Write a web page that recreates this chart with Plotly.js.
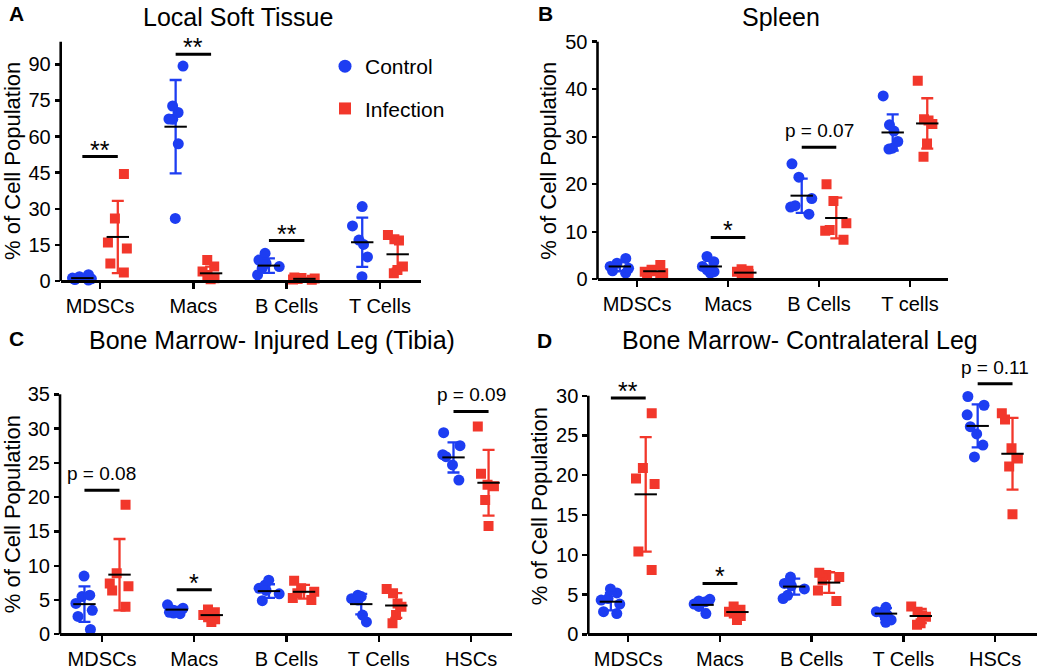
<!DOCTYPE html>
<html><head><meta charset="utf-8">
<script src="https://cdn.plot.ly/plotly-3.0.1.min.js"></script>
<style>html,body{margin:0;padding:0;background:#fff}#chart{width:1050px;height:670px}</style>
</head><body><div id="chart"></div>
<script>
// ---------- DATA ----------
// Panel A: Local Soft Tissue
const catsA = ['MDSCs', 'Macs', 'B Cells', 'T Cells'];
const ticksA = [0, 15, 30, 45, 60, 75, 90];
const ctrlA = [
  [2.6, 1.8, 1.2, 0.9, 0.6, 0.4],
  [89.3, 72.7, 70.0, 67.3, 67.2, 57.0, 26.0],
  [11.5, 8.7, 7.3, 6.0, 5.3, 2.5],
  [30.9, 22.9, 17.0, 15.2, 10.0, 1.8]
];
const infA = [
  [44.5, 26.0, 16.0, 13.5, 7.3, 3.5],
  [8.7, 6.0, 3.9, 2.5, 1.1, 0.7],
  [1.5, 1.2, 1.0, 0.8, 0.6, 0.5],
  [19.1, 17.3, 16.8, 6.0, 4.6, 3.2]
];
const ctrlMeanA = [1.2, 64.1, 6.4, 16.1];
const ctrlSdA = [0.8, 19.4, 3.0, 10.2];
const infMeanA = [18.3, 3.2, 0.9, 11.1];
const infSdA = [15.0, 2.8, 0.4, 6.0];
const sigCatA = [0, 1, 2];
const sigYA = [51.7, 94.2, 16.8];
const sigTxtA = ['**', '**', '**'];

// Panel B: Spleen
const catsB = ['MDSCs', 'Macs', 'B Cells', 'T cells'];
const ticksB = [0, 10, 20, 30, 40, 50];
const ctrlB = [
  [4.4, 3.4, 2.7, 2.3, 1.8, 1.3],
  [4.8, 3.7, 2.7, 2.0, 1.6, 1.3],
  [24.3, 21.5, 17.0, 15.5, 15.2, 13.7],
  [38.6, 32.5, 31.2, 29.0, 27.6, 27.4]
];
const infB = [
  [3.0, 2.0, 1.6, 1.3, 0.9, 0.7],
  [2.1, 1.8, 1.6, 1.3, 1.1, 0.8],
  [20.0, 16.5, 11.8, 10.4, 10.2, 8.3],
  [41.8, 33.7, 33.4, 32.7, 28.6, 25.8]
];
const ctrlMeanB = [2.7, 2.7, 17.6, 30.9];
const ctrlSdB = [1.0, 1.2, 3.6, 3.8];
const infMeanB = [1.7, 1.4, 12.9, 32.8];
const infSdB = [0.8, 0.5, 4.3, 5.3];
const sigCatB = [1, 2];
const sigYB = [8.8, 27.8];
const sigTxtB = ['*', 'p = 0.07'];

// Panel C: Bone Marrow - Injured Leg (Tibia)
const catsC = ['MDSCs', 'Macs', 'B Cells', 'T Cells', 'HSCs'];
const ticksC = [0, 5, 10, 15, 20, 25, 30, 35];
const ctrlC = [
  [8.5, 5.7, 5.5, 4.5, 3.5, 2.6, 0.7],
  [4.3, 3.8, 3.5, 3.4, 3.2, 3.1, 3.0],
  [7.9, 7.2, 6.7, 6.4, 5.9, 4.9],
  [5.7, 5.5, 5.2, 5.0, 2.8, 1.8],
  [29.4, 27.5, 26.2, 25.9, 24.7, 22.5]
];
const infC = [
  [18.9, 8.9, 7.4, 7.0, 6.4, 4.0],
  [3.6, 3.2, 2.8, 2.5, 2.2, 1.8],
  [7.8, 6.7, 6.2, 6.0, 5.3, 5.0],
  [6.6, 6.0, 4.5, 4.0, 2.8, 1.6],
  [30.3, 23.4, 21.8, 21.6, 19.6, 15.8]
];
const ctrlMeanC = [4.4, 3.6, 6.3, 4.4, 25.8];
const ctrlSdC = [2.6, 0.4, 1.0, 1.5, 2.2];
const infMeanC = [8.7, 2.8, 6.2, 4.2, 22.1];
const infSdC = [5.2, 0.6, 1.0, 1.8, 4.8];
const sigCatC = [0, 1, 4];
const sigYC = [21.0, 6.5, 32.5];
const sigTxtC = ['p = 0.08', '*', 'p = 0.09'];

// Panel D: Bone Marrow - Contralateral Leg
const catsD = ['MDSCs', 'Macs', 'B Cells', 'T Cells', 'HSCs'];
const ticksD = [0, 5, 10, 15, 20, 25, 30];
const ctrlD = [
  [5.7, 5.2, 4.5, 4.3, 3.8, 2.85, 2.6],
  [4.4, 4.2, 4.1, 3.8, 3.5, 2.6],
  [7.2, 6.4, 6.1, 5.7, 4.9, 4.5],
  [3.4, 2.85, 2.65, 2.4, 1.8, 1.5],
  [29.9, 28.8, 27.6, 26.1, 25.2, 23.8, 22.3]
];
const infD = [
  [27.8, 20.9, 19.6, 18.9, 10.4, 8.1],
  [3.5, 3.1, 2.85, 2.6, 2.3, 1.8],
  [7.75, 7.45, 7.2, 6.8, 5.5, 4.2],
  [3.5, 2.85, 2.4, 2.2, 1.4, 1.2],
  [27.8, 27.0, 23.4, 22.1, 21.1, 15.1]
];
const ctrlMeanD = [4.1, 3.7, 6.0, 2.6, 26.2];
const ctrlSdD = [1.1, 0.6, 1.0, 0.7, 2.7];
const infMeanD = [17.6, 2.8, 6.5, 2.3, 22.7];
const infSdD = [7.2, 0.6, 1.3, 0.9, 4.5];
const sigCatD = [0, 1, 4];
const sigYD = [29.7, 6.4, 31.5];
const sigTxtD = ['**', '*', 'p = 0.11'];

const seriesNames = ['Control', 'Infection'];
const panelTitles = ['Local Soft Tissue', 'Spleen', 'Bone Marrow- Injured Leg (Tibia)', 'Bone Marrow- Contralateral Leg'];
const panelLetters = ['A', 'B', 'C', 'D'];
const yTitle = '% of Cell Population';

// ---------- STYLE / GEOMETRY ----------
const W = 1050, H = 670;
const BLUE = '#1d3df2', RED = '#f2372b';
const FONT = '"Liberation Sans", Arial, Helvetica, sans-serif';
const OFF = 0.19;
const BELOW = 10; // px of plot area below zero line

const geo = [
  {left: 60.7, right: 421, zero: 281, ppu: 2.407, top: 104, axTop: 99.4, xr: [-0.422, 3.44], tx: 238, ty: 17, lx: 16, ly: 14},
  {left: 597.5, right: 948, zero: 279.3, ppu: 4.752, top: 52, axTop: 50, xr: [-0.435, 3.418], tx: 781, ty: 17, lx: 545, ly: 13},
  {left: 60, right: 512, zero: 634.3, ppu: 6.857, top: 36.5, axTop: 35, xr: [-0.455, 4.444], tx: 272, ty: 340, lx: 16, ly: 339},
  {left: 588.3, right: 1037, zero: 634.3, ppu: 7.953, top: 33.5, axTop: 30, xr: [-0.436, 4.457], tx: 800, ty: 340, lx: 544, ly: 340}
];

const panelData = [
  {cats: catsA, ticks: ticksA, ctrl: ctrlA, inf: infA, cm: ctrlMeanA, cs: ctrlSdA, im: infMeanA, is: infSdA, sc: sigCatA, sy: sigYA, st: sigTxtA},
  {cats: catsB, ticks: ticksB, ctrl: ctrlB, inf: infB, cm: ctrlMeanB, cs: ctrlSdB, im: infMeanB, is: infSdB, sc: sigCatB, sy: sigYB, st: sigTxtB},
  {cats: catsC, ticks: ticksC, ctrl: ctrlC, inf: infC, cm: ctrlMeanC, cs: ctrlSdC, im: infMeanC, is: infSdC, sc: sigCatC, sy: sigYC, st: sigTxtC},
  {cats: catsD, ticks: ticksD, ctrl: ctrlD, inf: infD, cm: ctrlMeanD, cs: ctrlSdD, im: infMeanD, is: infSdD, sc: sigCatD, sy: sigYD, st: sigTxtD}
];

const traces = [];
const layout = {
  width: W, height: H,
  margin: {l: 0, r: 0, t: 0, b: 0},
  paper_bgcolor: '#fff', plot_bgcolor: 'rgba(0,0,0,0)',
  font: {family: FONT, color: '#000'},
  boxmode: 'overlay',
  showlegend: true,
  legend: {x: 325 / W, xanchor: 'left', y: 1 - 46 / H, yanchor: 'top', font: {size: 21, color: '#000'},
           bgcolor: 'rgba(0,0,0,0)', traceorder: 'grouped', tracegroupgap: 12, itemsizing: 'trace'},
  annotations: [], shapes: []
};

function pointsTrace(groups, offset, color, symbol, xa, ya) {
  const x = [], y = [];
  groups.forEach((vals, i) => vals.forEach(v => { x.push(i + offset); y.push(v); }));
  return {type: 'box', orientation: 'v', x: x, y: y, xaxis: xa, yaxis: ya,
    boxpoints: 'all', jitter: 1, pointpos: 0, width: 0.25,
    fillcolor: 'rgba(0,0,0,0)', line: {width: 0, color: 'rgba(0,0,0,0)'}, whiskerwidth: 0,
    marker: {color: color, symbol: symbol, size: symbol === 'circle' ? 11 : 10, line: {width: 0}},
    showlegend: false, hoverinfo: 'y'};
}
function meanTrace(means, sds, offset, color, xa, ya) {
  return {type: 'scatter', mode: 'markers', x: means.map((m, i) => i + offset), y: means,
    xaxis: xa, yaxis: ya, cliponaxis: false,
    error_y: {type: 'data', array: sds, visible: true, color: color, thickness: 2.3, width: 6},
    marker: {symbol: 'line-ew', size: 16, color: '#000', line: {color: '#000', width: 2}},
    showlegend: false, hoverinfo: 'y'};
}

panelData.forEach((d, k) => {
  const g = geo[k];
  const s = k === 0 ? '' : String(k + 1);
  const xa = 'x' + s, ya = 'y' + s;
  traces.push(pointsTrace(d.ctrl, -OFF, BLUE, 'circle', xa, ya));
  traces.push(pointsTrace(d.inf, OFF, RED, 'square', xa, ya));
  traces.push(meanTrace(d.cm, d.cs, -OFF, BLUE, xa, ya));
  traces.push(meanTrace(d.im, d.is, OFF, RED, xa, ya));

  layout['xaxis' + s] = {
    domain: [g.left / W, g.right / W], range: g.xr, anchor: 'free', position: 1 - g.zero / H,
    showline: true, linecolor: '#000', linewidth: 2.6, ticks: 'outside', ticklen: 6, tickwidth: 2.4, tickcolor: '#000',
    tickvals: d.cats.map((c, i) => i), ticktext: d.cats, tickfont: {size: 20, color: '#000', family: FONT},
    showgrid: false, zeroline: false, fixedrange: true
  };
  layout['yaxis' + s] = {
    domain: [1 - (g.zero + BELOW) / H, 1 - (g.zero - g.top * g.ppu) / H], range: [-BELOW / g.ppu, g.top], anchor: xa,
    showline: false, ticks: 'outside', ticklen: 5, tickwidth: 2.4, tickcolor: '#000',
    tickvals: d.ticks, tickfont: {size: 20, color: '#000', family: FONT},
    showgrid: false, zeroline: false, fixedrange: true,
    title: {text: yTitle, font: {size: 22, color: '#000', family: FONT}, standoff: 2}
  };
  // y axis line from 0 to top tick
  layout.shapes.push({type: 'line', xref: 'paper', yref: 'paper', x0: g.left / W, x1: g.left / W,
    y0: 1 - g.zero / H, y1: 1 - (g.zero - g.axTop * g.ppu) / H, line: {color: '#000', width: 2.6}});
  // significance bars and labels
  d.sc.forEach((ci, j) => {
    layout.shapes.push({type: 'line', xref: xa, yref: ya, x0: ci - OFF, x1: ci + OFF, y0: d.sy[j], y1: d.sy[j],
      line: {color: '#000', width: 3}});
    const isP = d.st[j].charAt(0) === 'p';
    layout.annotations.push({xref: xa, yref: ya, x: ci, y: d.sy[j], text: d.st[j], showarrow: false,
      yanchor: 'bottom', xanchor: 'center', yshift: isP ? 4 : -9,
      font: {size: isP ? 19 : 25, color: '#000', family: FONT}});
  });
  // title and panel letter
  layout.annotations.push({xref: 'paper', yref: 'paper', x: g.tx / W, y: 1 - g.ty / H, text: panelTitles[k],
    showarrow: false, xanchor: 'center', yanchor: 'middle', font: {size: 25, color: '#000', family: FONT}});
  layout.annotations.push({xref: 'paper', yref: 'paper', x: g.lx / W, y: 1 - g.ly / H, text: '<b>' + panelLetters[k] + '</b>',
    showarrow: false, xanchor: 'center', yanchor: 'middle', font: {size: 21, color: '#000', family: FONT}});
});

// legend entries (panel A)
traces.push({type: 'scatter', mode: 'markers', x: [null], y: [null], name: seriesNames[0], legendgroup: 'c',
  marker: {color: BLUE, symbol: 'circle', size: 13}, showlegend: true});
traces.push({type: 'scatter', mode: 'markers', x: [null], y: [null], name: seriesNames[1], legendgroup: 'i',
  marker: {color: RED, symbol: 'square', size: 12}, showlegend: true});

Plotly.newPlot('chart', traces, layout, {staticPlot: true, displayModeBar: false});
</script>
</body></html>
